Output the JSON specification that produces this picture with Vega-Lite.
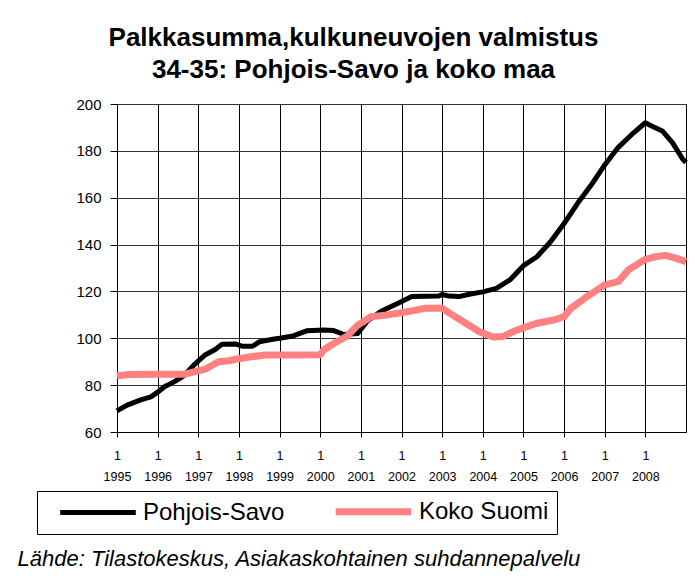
{
  "$schema": "https://vega.github.io/schema/vega-lite/v6.json",
  "width": 569,
  "height": 328,
  "autosize": "none",
  "padding": {"left": 117, "top": 104, "right": 9, "bottom": 151},
  "background": "white",
  "title": {
    "text": ["Palkkasumma,kulkuneuvojen valmistus", "34-35: Pohjois-Savo ja koko maa"],
    "font": "Liberation Sans",
    "fontSize": 26,
    "fontWeight": "bold",
    "color": "black",
    "anchor": "middle",
    "dx": -48,
    "offset": 14,
    "lineHeight": 32
  },
  "data": {
    "values": [
      {"s": "Pohjois-Savo", "m": 0, "v": 69},
      {"s": "Pohjois-Savo", "m": 3, "v": 71.5},
      {"s": "Pohjois-Savo", "m": 7, "v": 73.7},
      {"s": "Pohjois-Savo", "m": 10, "v": 75},
      {"s": "Pohjois-Savo", "m": 12, "v": 77},
      {"s": "Pohjois-Savo", "m": 14, "v": 79.3},
      {"s": "Pohjois-Savo", "m": 17, "v": 81.5},
      {"s": "Pohjois-Savo", "m": 20, "v": 84.3},
      {"s": "Pohjois-Savo", "m": 23, "v": 89},
      {"s": "Pohjois-Savo", "m": 26, "v": 92.9},
      {"s": "Pohjois-Savo", "m": 29, "v": 95.2},
      {"s": "Pohjois-Savo", "m": 31, "v": 97.5},
      {"s": "Pohjois-Savo", "m": 35, "v": 97.6},
      {"s": "Pohjois-Savo", "m": 37, "v": 96.6},
      {"s": "Pohjois-Savo", "m": 40, "v": 96.6},
      {"s": "Pohjois-Savo", "m": 42, "v": 98.5},
      {"s": "Pohjois-Savo", "m": 46, "v": 99.6},
      {"s": "Pohjois-Savo", "m": 48, "v": 100},
      {"s": "Pohjois-Savo", "m": 52, "v": 101},
      {"s": "Pohjois-Savo", "m": 56, "v": 103.2},
      {"s": "Pohjois-Savo", "m": 61, "v": 103.5},
      {"s": "Pohjois-Savo", "m": 64, "v": 103.3},
      {"s": "Pohjois-Savo", "m": 67, "v": 101.6},
      {"s": "Pohjois-Savo", "m": 71, "v": 102},
      {"s": "Pohjois-Savo", "m": 74, "v": 107.5},
      {"s": "Pohjois-Savo", "m": 78, "v": 111.5},
      {"s": "Pohjois-Savo", "m": 83, "v": 115},
      {"s": "Pohjois-Savo", "m": 87, "v": 117.8},
      {"s": "Pohjois-Savo", "m": 95, "v": 118},
      {"s": "Pohjois-Savo", "m": 96, "v": 118.7},
      {"s": "Pohjois-Savo", "m": 98, "v": 118},
      {"s": "Pohjois-Savo", "m": 101, "v": 117.8},
      {"s": "Pohjois-Savo", "m": 104, "v": 118.8},
      {"s": "Pohjois-Savo", "m": 108, "v": 119.8},
      {"s": "Pohjois-Savo", "m": 112, "v": 121.3},
      {"s": "Pohjois-Savo", "m": 116, "v": 124.9},
      {"s": "Pohjois-Savo", "m": 120, "v": 131},
      {"s": "Pohjois-Savo", "m": 124, "v": 134.8},
      {"s": "Pohjois-Savo", "m": 128, "v": 141.2},
      {"s": "Pohjois-Savo", "m": 132, "v": 149},
      {"s": "Pohjois-Savo", "m": 136, "v": 157.6},
      {"s": "Pohjois-Savo", "m": 140, "v": 165.4},
      {"s": "Pohjois-Savo", "m": 144, "v": 174},
      {"s": "Pohjois-Savo", "m": 148, "v": 181.5},
      {"s": "Pohjois-Savo", "m": 152, "v": 187},
      {"s": "Pohjois-Savo", "m": 156, "v": 192},
      {"s": "Pohjois-Savo", "m": 158, "v": 190.5},
      {"s": "Pohjois-Savo", "m": 161, "v": 188.5},
      {"s": "Pohjois-Savo", "m": 164, "v": 183.5},
      {"s": "Pohjois-Savo", "m": 167, "v": 176.5},
      {"s": "Pohjois-Savo", "m": 168, "v": 175},
      {"s": "Koko Suomi", "m": 0, "v": 84},
      {"s": "Koko Suomi", "m": 4, "v": 84.5},
      {"s": "Koko Suomi", "m": 12, "v": 84.6},
      {"s": "Koko Suomi", "m": 20, "v": 84.7},
      {"s": "Koko Suomi", "m": 23, "v": 85.8},
      {"s": "Koko Suomi", "m": 26, "v": 86.8},
      {"s": "Koko Suomi", "m": 30, "v": 90},
      {"s": "Koko Suomi", "m": 33, "v": 90.4},
      {"s": "Koko Suomi", "m": 36, "v": 91.3},
      {"s": "Koko Suomi", "m": 40, "v": 92.2},
      {"s": "Koko Suomi", "m": 44, "v": 92.9},
      {"s": "Koko Suomi", "m": 60, "v": 93},
      {"s": "Koko Suomi", "m": 61, "v": 95},
      {"s": "Koko Suomi", "m": 64, "v": 97.8},
      {"s": "Koko Suomi", "m": 68, "v": 101},
      {"s": "Koko Suomi", "m": 71, "v": 105.5},
      {"s": "Koko Suomi", "m": 75, "v": 109.2},
      {"s": "Koko Suomi", "m": 80, "v": 110},
      {"s": "Koko Suomi", "m": 86, "v": 111.4},
      {"s": "Koko Suomi", "m": 91, "v": 112.8},
      {"s": "Koko Suomi", "m": 96, "v": 112.8},
      {"s": "Koko Suomi", "m": 99, "v": 110},
      {"s": "Koko Suomi", "m": 103, "v": 106.4},
      {"s": "Koko Suomi", "m": 107, "v": 102.8},
      {"s": "Koko Suomi", "m": 111, "v": 100.5},
      {"s": "Koko Suomi", "m": 114, "v": 100.8},
      {"s": "Koko Suomi", "m": 118, "v": 103.5},
      {"s": "Koko Suomi", "m": 124, "v": 106.4},
      {"s": "Koko Suomi", "m": 129, "v": 107.8},
      {"s": "Koko Suomi", "m": 132, "v": 109.2},
      {"s": "Koko Suomi", "m": 134, "v": 112.8},
      {"s": "Koko Suomi", "m": 138, "v": 117},
      {"s": "Koko Suomi", "m": 144, "v": 122.8},
      {"s": "Koko Suomi", "m": 148, "v": 124.2},
      {"s": "Koko Suomi", "m": 151, "v": 129.2},
      {"s": "Koko Suomi", "m": 156, "v": 133.7},
      {"s": "Koko Suomi", "m": 159, "v": 134.8},
      {"s": "Koko Suomi", "m": 162, "v": 135.4},
      {"s": "Koko Suomi", "m": 165, "v": 134.2},
      {"s": "Koko Suomi", "m": 168, "v": 132.7}
    ]
  },
  "mark": {"type": "line", "strokeJoin": "round", "strokeCap": "butt"},
  "encoding": {
    "x": {
      "field": "m",
      "type": "quantitative",
      "scale": {"domain": [0, 168], "nice": false, "zero": false},
      "axis": {
        "values": [0, 12, 24, 36, 48, 60, 72, 84, 96, 108, 120, 132, 144, 156],
        "labelExpr": "['1', '' + (1995 + datum.value / 12)]",
        "labelFont": "Liberation Sans",
        "labelFontSize": 12.5,
        "labelLineHeight": 21,
        "labelBaseline": "top",
        "labelPadding": 12,
        "labelFlush": false,
        "labelColor": "black",
        "tickSize": 5,
        "tickColor": "black",
        "domainColor": "black",
        "grid": true,
        "gridColor": "black",
        "gridWidth": 1,
        "labelOverlap": false,
        "title": "Lähde: Tilastokeskus, Asiakaskohtainen suhdannepalvelu",
        "titleFont": "Liberation Sans",
        "titleFontSize": 22,
        "titleFontStyle": "italic",
        "titleFontWeight": "normal",
        "titleColor": "black",
        "titleAlign": "left",
        "titleAnchor": "start",
        "titleBaseline": "alphabetic",
        "titleX": -100,
        "titleY": 133
      }
    },
    "y": {
      "field": "v",
      "type": "quantitative",
      "scale": {"domain": [60, 200], "nice": false, "zero": false},
      "axis": {
        "values": [60, 80, 100, 120, 140, 160, 180, 200],
        "labelFont": "Liberation Sans",
        "labelFontSize": 15,
        "labelColor": "black",
        "labelPadding": 9,
        "tickSize": 7,
        "tickColor": "black",
        "domainColor": "black",
        "grid": true,
        "gridColor": "#333333",
        "gridWidth": 1,
        "title": null
      }
    },
    "color": {
      "field": "s",
      "type": "nominal",
      "scale": {"domain": ["Pohjois-Savo", "Koko Suomi"], "range": ["#000000", "#FF8080"]},
      "legend": {
        "orient": "none",
        "legendX": -80,
        "legendY": 387,
        "direction": "horizontal",
        "title": null,
        "strokeColor": "black",
        "fillColor": "white",
        "padding": 8,
        "gridAlign": "all",
        "symbolType": "M-4.2,0H4.2",
        "symbolSize": 324,
        "symbolStrokeWidth": 6,
        "symbolOffset": 41,
        "labelFont": "Liberation Sans",
        "labelFontSize": 24,
        "labelColor": "black",
        "labelOffset": 33,
        "labelLimit": 300,
        "columnPadding": 35
      }
    },
    "strokeWidth": {
      "field": "s",
      "type": "nominal",
      "scale": {"domain": ["Pohjois-Savo", "Koko Suomi"], "range": [5, 7]},
      "legend": null
    }
  },
  "config": {
    "view": {"stroke": "black", "strokeWidth": 1}
  }
}
